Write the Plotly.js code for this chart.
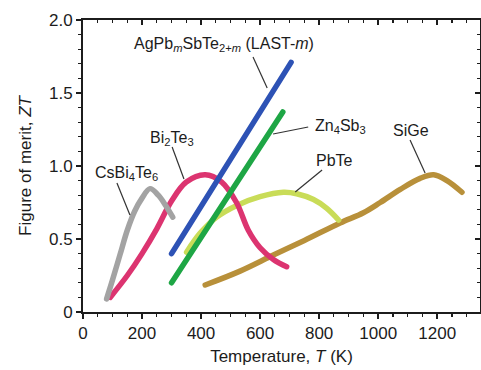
<!DOCTYPE html>
<html>
<head>
<meta charset="utf-8">
<script src="https://cdn.plot.ly/plotly-3.0.1.min.js"></script>
<style>
  html, body { margin: 0; padding: 0; background: #ffffff; }
  #chart { width: 481px; height: 370px; }
  .js-line { stroke-linecap: round !important; stroke-linejoin: round !important; }
</style>
</head>
<body>
<div id="chart"></div>
<script>
// Thermoelectric figure of merit ZT versus temperature T (K)
const csbiT  = [80, 100, 125, 150, 175, 200, 227, 255, 280, 304];
const csbiZT = [0.09, 0.22, 0.39, 0.56, 0.69, 0.78, 0.845, 0.80, 0.73, 0.65];

const bitT  = [92, 150, 200, 250, 300, 350, 414, 470, 520, 560, 600, 645, 690];
const bitZT = [0.10, 0.25, 0.40, 0.57, 0.76, 0.89, 0.94, 0.89, 0.75, 0.56, 0.44, 0.36, 0.31];

const lastT  = [300, 705];
const lastZT = [0.40, 1.71];

const znsbT  = [300, 677];
const znsbZT = [0.20, 1.37];

const pbteT  = [351, 397, 453, 521, 600, 679, 724, 781, 826, 866];
const pbteZT = [0.41, 0.54, 0.65, 0.73, 0.79, 0.82, 0.81, 0.77, 0.71, 0.63];

const sigeT  = [414, 532, 645, 750, 871, 950, 1007, 1075, 1142, 1188, 1233, 1284];
const sigeZT = [0.185, 0.28, 0.39, 0.49, 0.61, 0.68, 0.75, 0.84, 0.915, 0.94, 0.90, 0.82];

const xTicks = [0, 200, 400, 600, 800, 1000, 1200];
const yTicks = [0, 0.5, 1.0, 1.5, 2.0];
const yTickText = ['0', '0.5', '1.0', '1.5', '2.0'];

const FONT = 'Liberation Sans, Arial, Helvetica, sans-serif';
const INK = '#1c1c1c';

function curve(x, y, color, shape) {
  return {
    x: x, y: y, type: 'scatter', mode: 'lines', showlegend: false, hoverinfo: 'skip',
    line: { color: color, width: 5.5, shape: shape, smoothing: 1 }
  };
}

const traces = [
  curve(sigeT, sigeZT, '#b8903a', 'spline'),
  curve(pbteT, pbteZT, '#c9dc58', 'spline'),
  curve(bitT, bitZT, '#dc3470', 'spline'),
  curve(csbiT, csbiZT, '#a3a3a3', 'spline'),
  curve(znsbT, znsbZT, '#1ea645', 'linear'),
  curve(lastT, lastZT, '#2d52b5', 'linear'),
  // carries the mirrored top/right axes
  { x: [], y: [], xaxis: 'x2', yaxis: 'y2', showlegend: false, hoverinfo: 'skip', type: 'scatter' }
];

// label text: [html, T, ZT] and leader line: [T0, ZT0, T1, ZT1]
const labels = [
  ['AgPb<sub><i>m</i></sub>SbTe<sub>2+<i>m</i></sub> (LAST-<i>m</i>)', 478, 1.835],
  ['Zn<sub>4</sub>Sb<sub>3</sub>', 873, 1.268],
  ['SiGe', 1110, 1.24],
  ['PbTe', 851, 1.041],
  ['Bi<sub>2</sub>Te<sub>3</sub>', 300, 1.186],
  ['CsBi<sub>4</sub>Te<sub>6</sub>', 149, 0.946]
];
const leaders = [
  [576, 1.747, 624, 1.534],
  [763, 1.267, 644, 1.219],
  [1108, 1.178, 1159, 0.952],
  [810, 0.973, 719, 0.822],
  [302, 1.130, 342, 0.911],
  [115, 0.884, 159, 0.664]
];

const annotations = labels.map(l => ({
  text: l[0], x: l[1], y: l[2], xref: 'x', yref: 'y', showarrow: false,
  xanchor: 'center', yanchor: 'middle',
  font: { family: FONT, size: 16, color: INK }
}));

const shapes = leaders.map(s => ({
  type: 'line', xref: 'x', yref: 'y', x0: s[0], y0: s[1], x1: s[2], y1: s[3],
  line: { color: '#333333', width: 1.2 }
}));

const xRange = [0, 1345];
const yRange = [0, 2];

const layout = {
  width: 481, height: 370,
  margin: { l: 83, r: 1, t: 20, b: 58 },
  paper_bgcolor: '#ffffff', plot_bgcolor: '#ffffff',
  font: { family: FONT, size: 17, color: INK },
  xaxis: {
    range: xRange, tickvals: xTicks, ticks: 'outside', ticklen: 5, tickwidth: 1.5, tickcolor: INK,
    showline: true, linewidth: 2, linecolor: INK, showgrid: false, zeroline: false,
    tickfont: { family: FONT, size: 17, color: INK },
    minor: { dtick: 50, tick0: 0, ticks: 'outside', ticklen: 3, tickwidth: 1.2, tickcolor: INK, showgrid: false },
    title: { text: 'Temperature, <i>T</i> (K)', font: { family: FONT, size: 17, color: INK }, standoff: 8 }
  },
  yaxis: {
    range: yRange, tickvals: yTicks, ticktext: yTickText, ticks: 'outside', ticklen: 5, tickwidth: 1.5, tickcolor: INK,
    showline: true, linewidth: 2, linecolor: INK, showgrid: false, zeroline: false,
    tickfont: { family: FONT, size: 17, color: INK },
    minor: { dtick: 0.1, tick0: 0, ticks: 'outside', ticklen: 3, tickwidth: 1.2, tickcolor: INK, showgrid: false },
    title: { text: 'Figure of merit, <i>ZT</i>', font: { family: FONT, size: 17, color: INK }, standoff: 13 }
  },
  xaxis2: {
    overlaying: 'x', side: 'top', anchor: 'y2', range: xRange, tickvals: xTicks,
    ticks: 'inside', ticklen: 5, tickwidth: 1.5, tickcolor: INK, showticklabels: false,
    showline: true, linewidth: 2, linecolor: INK, showgrid: false, zeroline: false,
    minor: { dtick: 50, tick0: 0, ticks: 'inside', ticklen: 3, tickwidth: 1.2, tickcolor: INK, showgrid: false }
  },
  yaxis2: {
    overlaying: 'y', side: 'right', anchor: 'x2', range: yRange, tickvals: yTicks,
    ticks: 'inside', ticklen: 5, tickwidth: 1.5, tickcolor: INK, showticklabels: false,
    showline: true, linewidth: 2, linecolor: INK, showgrid: false, zeroline: false,
    minor: { dtick: 0.1, tick0: 0, ticks: 'inside', ticklen: 3, tickwidth: 1.2, tickcolor: INK, showgrid: false }
  },
  annotations: annotations,
  shapes: shapes
};

Plotly.newPlot('chart', traces, layout, { staticPlot: true, displayModeBar: false });
</script>
</body>
</html>
